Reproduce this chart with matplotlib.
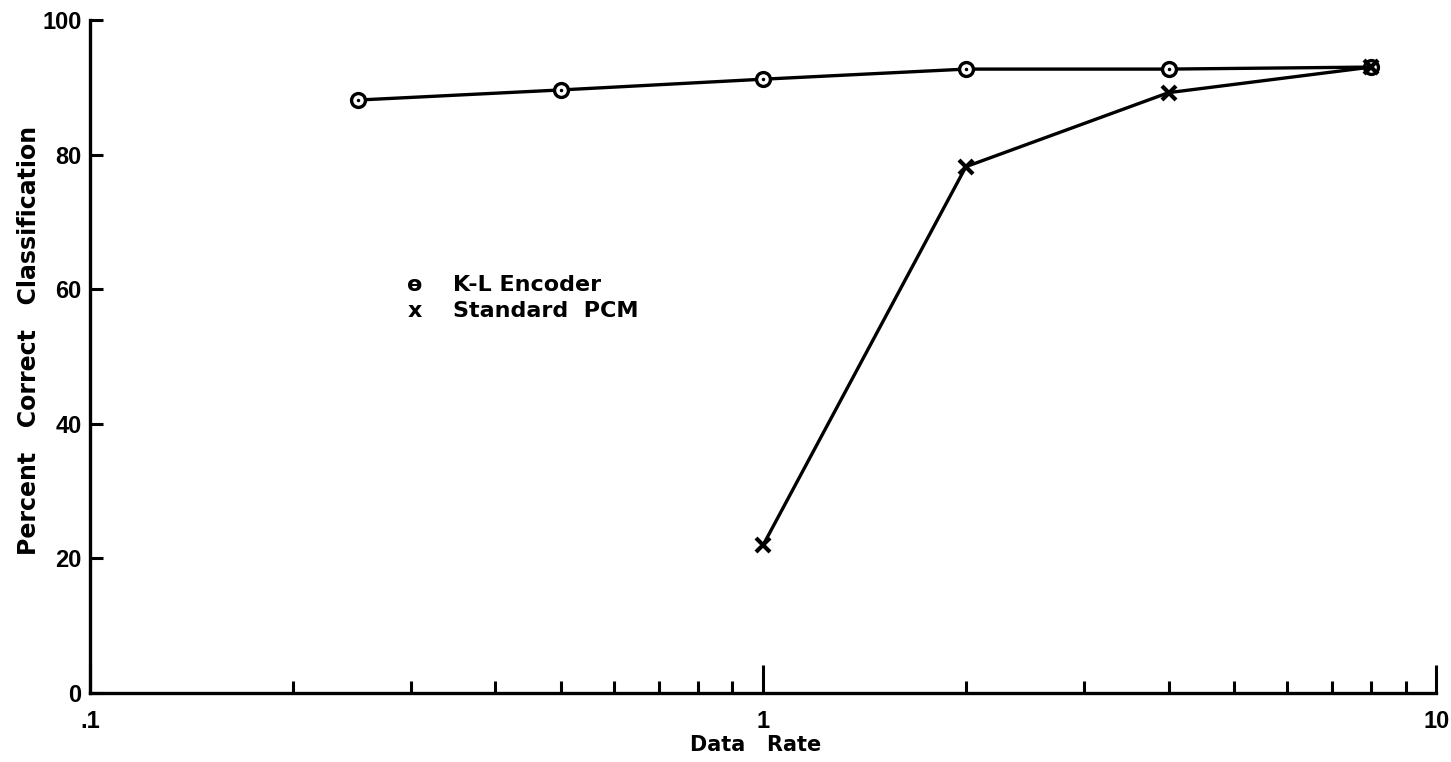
import matplotlib
matplotlib.use("Agg")
import matplotlib.pyplot as plt
from matplotlib.ticker import FixedLocator, NullFormatter

plt.rcParams['font.family'] = ['Liberation Sans', 'DejaVu Sans']
plt.rcParams['font.weight'] = 'bold'

kl_rate = [0.25, 0.5, 1, 2, 4, 8]
kl_pct = [88.1, 89.6, 91.2, 92.7, 92.7, 93.0]
pcm_rate = [1, 2, 4, 8]
pcm_pct = [22.0, 78.2, 89.2, 93.0]
x_ticks = [0.1, 1, 10]
x_tick_labels = ['.1', '1', '10']
y_ticks = [0, 20, 40, 60, 80, 100]
y_tick_labels = ['0', '20', '40', '60', '80', '100']

fig = plt.figure(figsize=(14.51, 7.62), dpi=100)
ax = fig.add_axes([0.062, 0.0906, 0.928, 0.8832])

ax.plot(kl_rate, kl_pct, color='black', lw=2.4, marker='o', ms=10,
        mfc='white', mec='black', mew=2.4, zorder=3)
ax.plot(kl_rate, kl_pct, ls='none', marker='.', ms=3, color='black', zorder=4)
ax.plot(pcm_rate, pcm_pct, color='black', lw=2.4, marker='x', ms=10,
        mew=3.0, zorder=3)

ax.set_xscale('log')
ax.set_xlim(0.1, 10)
ax.set_ylim(0, 100)

ax.xaxis.set_major_locator(FixedLocator(x_ticks))
ax.set_xticklabels(x_tick_labels)
minor = [m * d for d in (0.1, 1) for m in range(2, 10)]
ax.xaxis.set_minor_locator(FixedLocator(minor))
ax.xaxis.set_minor_formatter(NullFormatter())
ax.set_yticks(y_ticks)
ax.set_yticklabels(y_tick_labels)

for s in ('top', 'right'):
    ax.spines[s].set_visible(False)
for s in ('left', 'bottom'):
    ax.spines[s].set_linewidth(2.4)

ax.tick_params(axis='x', which='major', direction='in', length=20, width=2.2,
               pad=12, labelsize=17)
ax.tick_params(axis='x', which='minor', direction='in', length=8.5, width=2.2)
ax.tick_params(axis='y', which='major', direction='in', length=9, width=2.2,
               pad=6, labelsize=17)

lab_font = ['DejaVu Sans']
fig.text(756 / 1451, 1 - 745 / 762, 'Data   Rate', fontsize=15,
         fontweight='bold', family=lab_font, ha='center', va='center')
fig.text(29 / 1451, 1 - 340 / 762, 'Percent   Correct   Classification',
         fontsize=17, fontweight='bold', family=lab_font, rotation=90,
         ha='center', va='center')

ax.text(0.241, 0.606, '\u0473', transform=ax.transAxes, fontsize=16,
        ha='center', va='center', fontweight='bold', family=lab_font)
ax.text(0.2695, 0.606, 'K-L Encoder', transform=ax.transAxes, fontsize=16,
        ha='left', va='center', fontweight='bold', family=lab_font)
ax.text(0.241, 0.568, 'x', transform=ax.transAxes, fontsize=16,
        ha='center', va='center', fontweight='bold', family=lab_font)
ax.text(0.2695, 0.568, 'Standard  PCM', transform=ax.transAxes, fontsize=16,
        ha='left', va='center', fontweight='bold', family=lab_font)

fig.savefig('out.png', dpi=100)
